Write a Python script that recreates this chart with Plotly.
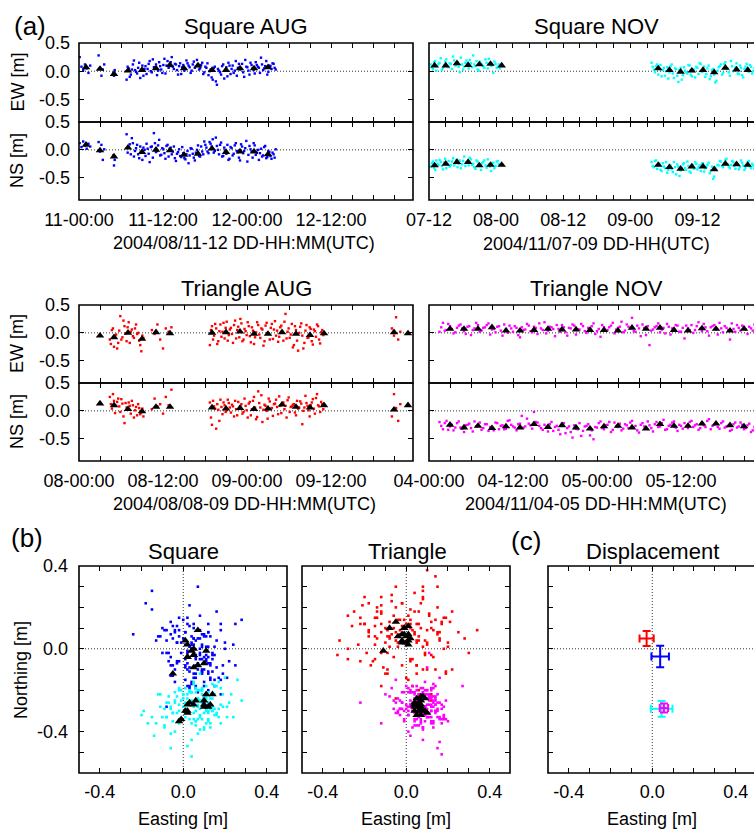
import plotly.graph_objects as go

# ------------------------------------------------------------------ data
# Square AUG  (hours from 2004/08/11 00:00 UTC)
sq_aug_t = [0.1, 0.35, 0.6, 0.85, 1.1, 1.35, 1.6,
            2.8, 3.0, 3.2, 3.4, 3.6,
            4.9, 5.0, 5.1,
            6.8, 7.1, 7.4, 7.7, 8.0, 8.3, 8.6, 8.9, 9.2, 9.5, 9.8, 10.1, 10.4, 10.7, 11.0, 11.3,
            11.6, 11.9, 12.2, 12.5, 12.8, 13.1, 13.4, 13.7, 14.0, 14.3, 14.6, 14.9, 15.2, 15.5,
            15.8, 16.1, 16.4, 16.7, 17.0, 17.3, 17.6, 17.9, 18.2, 18.5, 18.8, 19.1, 19.4, 19.7,
            20.0, 20.3, 20.6, 20.9, 21.2, 21.5, 21.8, 22.1, 22.4, 22.7, 23.0, 23.3, 23.6, 23.9,
            24.2, 24.5, 24.8, 25.1, 25.4, 25.7, 26.0, 26.3, 26.6, 26.9, 27.2, 27.5, 27.8, 28.1,
            6.95, 7.25, 7.55, 7.85, 8.15, 8.45, 8.75, 9.05, 9.35, 9.65, 9.95, 10.25, 10.55, 10.85,
            11.15, 11.45, 11.75, 12.05, 12.35, 12.65, 12.95, 13.25, 13.55, 13.85, 14.15, 14.45,
            14.75, 15.05, 15.35, 15.65, 15.95, 16.25, 16.55, 16.85, 17.15, 17.45, 17.75, 18.05,
            18.35, 18.65, 18.95, 19.25, 19.55, 19.85, 20.15, 20.45, 20.75, 21.05, 21.35, 21.65,
            21.95, 22.25, 22.55, 22.85, 23.15, 23.45, 23.75, 24.05, 24.35, 24.65, 24.95, 25.25,
            25.55, 25.85, 26.15, 26.45, 26.75, 27.05, 27.35, 27.65, 27.95]
sq_aug_ew = [0.25, 0.08, 0.02, 0.12, 0.05, -0.03, 0.10,
             0.28, 0.06, -0.08, 0.03, 0.12,
             -0.04, -0.08, 0.02,
             -0.15, 0.05, -0.06, 0.12, 0.02, -0.04, 0.15, 0.01, -0.08, 0.09,
             0.04, 0.18, -0.02, 0.07, 0.12, 0.01, 0.09, -0.03, 0.22, 0.10,
             0.06, 0.16, 0.08, 0.13, 0.02, 0.09, -0.05, 0.11, 0.04, 0.14,
             0.07, 0.01, 0.17, 0.09, 0.12, 0.05, 0.15, -0.02, 0.06, -0.07,
             0.03, -0.15, 0.08, -0.24, 0.01, -0.06, 0.12, 0.02, -0.09, 0.10,
             0.04, -0.03, 0.18, 0.06, 0.03, 0.13, -0.10, 0.08, 0.01, 0.15,
             0.05, -0.04, 0.11, 0.06, 0.24, 0.02, 0.09, -0.06, 0.10, 0.04,
             0.13, 0.03,
             0.08, -0.10, 0.03, 0.19, -0.01, 0.06, -0.12, 0.10, 0.04, -0.05,
             0.13, 0.00, 0.21, 0.05, -0.07, 0.16, 0.03, 0.11, -0.04, 0.18,
             0.09, 0.25, 0.04, 0.12, -0.06, 0.14, 0.07, 0.01, 0.19, 0.10,
             -0.03, 0.12, 0.06, 0.20, 0.03, 0.11, -0.05, 0.08, 0.14, 0.00,
             -0.11, 0.06, -0.18, 0.04, -0.02, 0.09, -0.13, 0.07, 0.15, -0.05,
             0.10, 0.01, -0.08, 0.13, 0.05, -0.02, 0.20, 0.07, -0.06, 0.11,
             0.02, 0.16, 0.08, -0.03, 0.12, 0.05, 0.18, -0.01, 0.09, 0.14,
             0.06]
sq_aug_ns = [0.12, 0.05, 0.15, 0.08, 0.02, 0.11, 0.06,
             0.14, -0.03, 0.09, -0.18, 0.01,
             -0.10, -0.28, -0.18,
             0.28, 0.05, -0.08, 0.12, -0.02, 0.09, -0.15, -0.05, 0.04, -0.11,
             0.02, -0.22, 0.06, 0.30, -0.04, 0.08, -0.10, 0.03, -0.06, 0.07,
             -0.12, 0.04, -0.03, -0.15, -0.07, 0.01, -0.13, -0.06, -0.17, -0.02,
             -0.10, 0.02, -0.14, -0.05, 0.08, -0.12, -0.03, 0.15, 0.04, -0.06,
             0.11, 0.19, -0.02, 0.07, -0.08, 0.13, -0.11, -0.01, 0.09, -0.16,
             0.03, -0.07, 0.12, -0.04, -0.19, 0.06, -0.02, 0.16, -0.09, 0.01,
             -0.14, 0.08, -0.05, -0.18, 0.02, -0.10, 0.07, -0.13, -0.04, -0.16,
             -0.08, 0.01,
             -0.05, 0.10, 0.21, -0.12, 0.03, -0.08, 0.06, -0.18, 0.00, 0.11,
             -0.07, 0.05, -0.14, 0.12, -0.02, 0.18, -0.09, 0.01, -0.16, 0.09,
             0.02, -0.08, 0.06, -0.20, -0.04, -0.11, 0.05, -0.15, -0.08, -0.24,
             0.03, -0.07, -0.19, 0.00, -0.11, 0.06, -0.08, 0.09, -0.03, 0.14,
             0.06, -0.05, 0.22, 0.00, 0.09, -0.12, 0.04, -0.07, -0.18, 0.05,
             -0.10, 0.08, -0.02, -0.14, 0.10, -0.06, 0.03, -0.21, 0.07, -0.03,
             0.12, -0.09, 0.00, -0.06, -0.12, 0.05, -0.15, -0.02, -0.11, -0.05,
             -0.14]
sq_aug_tri_t = [1, 3, 5, 7, 9, 11, 13, 15, 17, 19, 21, 23, 25, 27]
sq_aug_tri_ew = [0.07, 0.04, -0.05, 0.01, 0.02, 0.05, 0.11, 0.05, 0.10, 0.02, 0.02, 0.05, 0.05, 0.07]
sq_aug_tri_ns = [0.09, -0.01, -0.12, 0.04, -0.04, 0.00, -0.01, -0.09, -0.07, 0.02, -0.04, -0.03, -0.03, -0.08]

# Square NOV  (hours from 2004/11/07 12:00 UTC)
sq_nov_t = [0.3, 0.7, 1.1, 1.5, 1.9, 2.3, 2.7, 3.1, 3.5, 3.9, 4.3, 4.7, 5.1, 5.5, 5.9, 6.3,
            6.7, 7.1, 7.5, 7.9, 8.3, 8.7, 9.1, 9.5, 9.9, 10.3, 10.7, 11.1, 11.5, 11.9, 12.3, 12.7,
            39.8, 40.2, 40.6, 41.0, 41.4, 41.8, 42.2, 42.6, 43.0, 43.4, 43.8, 44.2, 44.6, 45.0,
            45.4, 45.8, 46.2, 46.6, 47.0, 47.4, 47.8, 48.2, 48.6, 49.0, 49.4, 49.8, 50.2, 50.6,
            51.0, 51.4, 51.8, 52.2, 52.6, 53.0, 53.4, 53.8, 54.2, 54.6, 55.0, 55.4, 55.8, 56.2,
            56.6, 57.0, 57.4, 57.8, 58.2,
            0.5, 0.9, 1.3, 1.7, 2.1, 2.5, 2.9, 3.3, 3.7, 4.1, 4.5, 4.9, 5.3, 5.7, 6.1, 6.5, 6.9,
            7.3, 7.7, 8.1, 8.5, 8.9, 9.3, 9.7, 10.1, 10.5, 10.9, 11.3, 11.7, 12.1, 12.5,
            40.0, 40.4, 40.8, 41.2, 41.6, 42.0, 42.4, 42.8, 43.2, 43.6, 44.0, 44.4, 44.8, 45.2,
            45.6, 46.0, 46.4, 46.8, 47.2, 47.6, 48.0, 48.4, 48.8, 49.2, 49.6, 50.0, 50.4, 50.8,
            51.2, 51.6, 52.0, 52.4, 52.8, 53.2, 53.6, 54.0, 54.4, 54.8, 55.2, 55.6, 56.0, 56.4,
            56.8, 57.2, 57.6, 58.0]
sq_nov_ew = [0.12, 0.04, 0.18, 0.09, 0.15, 0.02, 0.11, 0.21, 0.07, 0.13, 0.26, 0.10, 0.16, -0.02,
             0.12, 0.08, 0.19, 0.05, 0.14, 0.28, 0.09, 0.03, 0.17, 0.11, 0.06, 0.15, 0.22, 0.10,
             -0.03, 0.13, 0.08, 0.05,
             0.15, 0.03, 0.09, -0.06, 0.11, 0.02, -0.08, 0.07, -0.02, 0.12,
             -0.12, 0.04, -0.19, 0.06, -0.07, 0.01, -0.04, 0.10, -0.09, 0.03,
             0.08, -0.05, 0.13, 0.00, -0.10, 0.05, -0.14, 0.02, -0.06, -0.17,
             0.07, 0.12, -0.03, 0.16, 0.04, -0.08, 0.09, 0.01, 0.14, -0.05,
             0.06, -0.11, 0.08, 0.02, 0.11, -0.04, 0.05,
             0.07, 0.16, 0.01, 0.13, 0.23, 0.06, 0.17, 0.09, 0.14, 0.04, 0.19, 0.11, 0.08, 0.24,
             0.03, 0.15, 0.10, 0.20, 0.07, 0.12, 0.18, 0.01, 0.13, 0.09, 0.21, 0.05, 0.14, 0.10,
             0.17, 0.06, 0.12,
             0.08, -0.02, 0.12, 0.04, -0.09, 0.06, 0.00, -0.13, 0.09, -0.04,
             0.05, -0.08, 0.02, -0.15, 0.07, -0.02, 0.11, -0.06, 0.03, -0.11,
             0.06, 0.14, -0.01, 0.08, -0.05, 0.10, -0.09, 0.04, -0.20, 0.01,
             0.09, -0.06, 0.13, 0.05, -0.02, 0.18, 0.00, 0.07, -0.04, 0.10,
             -0.07, 0.04, 0.13, -0.01, 0.08, 0.00]
sq_nov_ns = [-0.30, -0.21, -0.36, -0.25, -0.18, -0.29, -0.23, -0.33, -0.20, -0.27, -0.15, -0.24,
             -0.31, -0.19, -0.26, -0.12, -0.22, -0.28, -0.17, -0.25, -0.34, -0.21, -0.29, -0.24,
             -0.19, -0.32, -0.26, -0.38, -0.23, -0.29, -0.20, -0.27,
             -0.22, -0.31, -0.19, -0.28, -0.36, -0.24, -0.33, -0.41, -0.27, -0.35,
             -0.22, -0.44, -0.30, -0.37, -0.26, -0.33, -0.21, -0.39, -0.29, -0.34,
             -0.25, -0.31, -0.38, -0.24, -0.33, -0.27, -0.42, -0.30, -0.48, -0.36,
             -0.28, -0.21, -0.31, -0.18, -0.26, -0.33, -0.20, -0.29, -0.24, -0.35,
             -0.19, -0.28, -0.32, -0.22, -0.30, -0.25, -0.34,
             -0.24, -0.32, -0.19, -0.27, -0.22, -0.35, -0.16, -0.26, -0.30, -0.21,
             -0.28, -0.18, -0.25, -0.33, -0.20, -0.29, -0.23, -0.14, -0.27, -0.31,
             -0.19, -0.26, -0.36, -0.22, -0.28, -0.17, -0.30, -0.24, -0.33, -0.21, -0.26,
             -0.29, -0.20, -0.34, -0.25, -0.38, -0.30, -0.22, -0.36, -0.28, -0.40,
             -0.31, -0.26, -0.47, -0.33, -0.24, -0.36, -0.29, -0.41, -0.27, -0.22,
             -0.35, -0.28, -0.25, -0.39, -0.31, -0.23, -0.37, -0.52, -0.32, -0.27,
             -0.20, -0.29, -0.24, -0.16, -0.30, -0.27, -0.22, -0.34, -0.26, -0.31,
             -0.23, -0.36, -0.27, -0.20, -0.33, -0.28]
sq_nov_tri_t = [1, 3, 5, 7, 9, 11, 13, 41, 43, 45, 47, 49, 51, 53, 55, 57]
sq_nov_tri_ew = [0.10, 0.10, 0.14, 0.11, 0.12, 0.13, 0.10, 0.05, 0.02, -0.01, 0.01, 0.02, -0.02, 0.06, 0.03, 0.02]
sq_nov_tri_ns = [-0.28, -0.25, -0.22, -0.22, -0.28, -0.27, -0.27, -0.27, -0.31, -0.34, -0.30, -0.30, -0.35, -0.25, -0.26, -0.27]

# Triangle AUG  (hours from 2004/08/08 00:00 UTC)
tr_aug_t = [4.4, 4.7, 5.0, 5.3, 5.6, 5.9, 6.2, 6.5, 6.8, 7.1, 7.4, 7.7, 8.0, 8.3, 8.6, 8.9, 9.2,
            10.4, 10.8, 11.2, 11.6, 12.0, 12.4, 12.8, 13.2,
            18.7, 19.0, 19.3, 19.6, 19.9, 20.2, 20.5, 20.8, 21.1, 21.4, 21.7, 22.0, 22.3, 22.6,
            22.9, 23.2, 23.5, 23.8, 24.1, 24.4, 24.7, 25.0, 25.3, 25.6, 25.9, 26.2, 26.5, 26.8,
            27.1, 27.4, 27.7, 28.0, 28.3, 28.6, 28.9, 29.2, 29.5, 29.8, 30.1, 30.4, 30.7, 31.0,
            31.3, 31.6, 31.9, 32.2, 32.5, 32.8, 33.1, 33.4, 33.7, 34.0, 34.3, 34.6, 34.9,
            44.7, 45.0, 45.3, 45.6, 45.9,
            4.55, 4.85, 5.15, 5.45, 5.75, 6.05, 6.35, 6.65, 6.95, 7.25, 7.55, 7.85, 8.15, 8.45,
            8.75, 9.05,
            18.85, 19.15, 19.45, 19.75, 20.05, 20.35, 20.65, 20.95, 21.25, 21.55, 21.85, 22.15,
            22.45, 22.75, 23.05, 23.35, 23.65, 23.95, 24.25, 24.55, 24.85, 25.15, 25.45, 25.75,
            26.05, 26.35, 26.65, 26.95, 27.25, 27.55, 27.85, 28.15, 28.45, 28.75, 29.05, 29.35,
            29.65, 29.95, 30.25, 30.55, 30.85, 31.15, 31.45, 31.75, 32.05, 32.35, 32.65, 32.95,
            33.25, 33.55, 33.85, 34.15, 34.45, 34.75]
tr_aug_ew = [-0.12, 0.05, -0.25, -0.03, -0.18, 0.30, -0.08, 0.12, -0.15, 0.19, 0.02, -0.06, 0.08,
             -0.02, -0.14, -0.33, -0.09,
             0.05, -0.02, 0.15, -0.12, -0.28, 0.08, 0.02, 0.10,
             -0.22, 0.12, -0.05, 0.08, -0.15, 0.15, 0.02, -0.10, 0.20, -0.04,
             0.09, -0.18, 0.22, 0.05, -0.08, 0.17, -0.12, 0.03, 0.19, -0.06,
             0.10, -0.20, 0.01, 0.14, -0.09, 0.06, -0.15, 0.18, -0.02, 0.09,
             -0.11, 0.21, 0.04, -0.07, 0.13, -0.14, 0.34, 0.02, -0.09, 0.16,
             -0.22, 0.05, -0.32, 0.11, -0.05, -0.18, 0.14, -0.08, 0.07, -0.21,
             0.03, 0.15, -0.12, 0.01, -0.04,
             0.08, -0.05, 0.28, -0.12, 0.02,
             -0.20, 0.08, -0.06, -0.28, 0.04, -0.12, 0.22, -0.01, 0.10, -0.18, 0.06, -0.09,
             0.15, 0.00, -0.22, -0.05,
             0.05, -0.12, 0.16, -0.20, 0.03, -0.07, 0.18, 0.09, -0.14, 0.06,
             -0.02, 0.14, -0.10, 0.11, 0.25, -0.15, 0.07, -0.04, 0.12, -0.17,
             0.04, -0.08, 0.19, -0.03, 0.08, -0.23, 0.13, 0.00, -0.12, 0.16,
             0.06, -0.05, -0.16, 0.10, 0.02, 0.20, -0.10, 0.08, -0.03, -0.26,
             0.12, -0.14, 0.00, 0.17, -0.28, 0.04, -0.09, 0.10, -0.15, 0.06,
             -0.07, 0.12, -0.19, 0.05]
tr_aug_ns = [0.25, 0.04, 0.18, 0.09, 0.22, -0.02, 0.13, -0.22, 0.06, 0.15, -0.05, 0.10, 0.01,
             -0.08, 0.05, -0.03, -0.10,
             0.03, 0.22, 0.08, 0.12, -0.05, 0.25, 0.10, 0.38,
             0.15, -0.25, 0.08, -0.32, 0.02, 0.20, -0.06, 0.10, 0.01, 0.14,
             -0.03, 0.08, 0.18, -0.08, 0.05, 0.12, -0.02, 0.09, -0.12, 0.16,
             0.03, 0.25, -0.15, 0.35, 0.06, -0.20, 0.11, 0.00, 0.22, 0.04,
             -0.09, 0.13, 0.07, 0.26, -0.04, 0.15, 0.09, 0.19, -0.02, 0.08,
             0.12, -0.08, 0.04, 0.17, -0.24, 0.06, 0.14, 0.01, 0.10, 0.21,
             -0.05, 0.30, 0.08, 0.16, 0.03,
             -0.10, 0.30, 0.05, -0.18, 0.12,
             0.12, 0.30, -0.04, 0.16, 0.08, 0.21, -0.10, 0.14, 0.02, 0.09, 0.18, -0.12,
             0.07, 0.12, -0.06, 0.04,
             -0.12, 0.18, 0.04, 0.12, -0.18, 0.07, 0.15, -0.02, 0.20, 0.06,
             0.11, -0.10, 0.03, 0.16, 0.08, -0.05, 0.22, 0.01, 0.13, -0.08,
             0.18, 0.06, -0.11, 0.14, 0.28, 0.02, 0.09, -0.14, 0.17, 0.05,
             0.12, 0.20, -0.06, 0.09, 0.14, 0.03, -0.12, 0.24, 0.07, 0.11,
             -0.03, 0.18, 0.06, 0.13, 0.00, 0.27, 0.09, -0.10, 0.15, 0.04,
             0.23, 0.10, -0.02, 0.12]
tr_aug_tri_t = [3, 5, 7, 9, 11, 13, 19, 21, 23, 25, 27, 29, 31, 33, 35, 45, 47]
tr_aug_tri_ew = [-0.05, -0.08, 0.00, -0.11, 0.01, -0.01, 0.00, 0.01, 0.02, -0.02, -0.02, 0.01, -0.02, -0.04, -0.01, 0.01, -0.01]
tr_aug_tri_ns = [0.13, 0.10, 0.03, -0.01, 0.07, 0.07, 0.06, 0.04, 0.05, 0.03, 0.04, 0.11, 0.07, 0.06, 0.10, 0.02, 0.10]

# Triangle NOV  (hours from 2004/11/04 00:00 UTC)
tr_nov_t = [1.5, 2.0, 2.5, 3.0, 3.5, 4.0, 4.5, 5.0, 5.5, 6.0, 6.5, 7.0, 7.5, 8.0, 8.5, 9.0, 9.5,
            10.0, 10.5, 11.0, 11.5, 12.0, 12.5, 13.0, 13.5, 14.0, 14.5, 15.0, 15.5, 16.0, 16.5,
            17.0, 17.5, 18.0, 18.5, 19.0, 19.5, 20.0, 20.5, 21.0, 21.5, 22.0, 22.5, 23.0, 23.5,
            24.0, 24.5, 25.0, 25.5, 26.0, 26.5, 27.0, 27.5, 28.0, 28.5, 29.0, 29.5, 30.0, 30.5,
            31.0, 31.5, 32.0, 32.5, 33.0, 33.5, 34.0, 34.5, 35.0, 35.5, 36.0, 36.5, 37.0, 37.5,
            38.0, 38.5, 39.0, 39.5, 40.0, 40.5, 41.0, 41.5, 42.0, 42.5, 43.0, 43.5, 44.0, 44.5,
            45.0, 45.5, 46.0, 46.5,
            1.75, 2.25, 2.75, 3.25, 3.75, 4.25, 4.75, 5.25, 5.75, 6.25, 6.75, 7.25, 7.75, 8.25,
            8.75, 9.25, 9.75, 10.25, 10.75, 11.25, 11.75, 12.25, 12.75, 13.25, 13.75, 14.25,
            14.75, 15.25, 15.75, 16.25, 16.75, 17.25, 17.75, 18.25, 18.75, 19.25, 19.75, 20.25,
            20.75, 21.25, 21.75, 22.25, 22.75, 23.25, 23.75, 24.25, 24.75, 25.25, 25.75, 26.25,
            26.75, 27.25, 27.75, 28.25, 28.75, 29.25, 29.75, 30.25, 30.75, 31.25, 31.75, 32.25,
            32.75, 33.25, 33.75, 34.25, 34.75, 35.25, 35.75, 36.25, 36.75, 37.25, 37.75, 38.25,
            38.75, 39.25, 39.75, 40.25, 40.75, 41.25, 41.75, 42.25, 42.75, 43.25, 43.75, 44.25,
            44.75, 45.25, 45.75, 46.25]
tr_nov_ew = [0.02, 0.18, 0.05, 0.12, -0.01, 0.09, 0.15, 0.03, 0.11, -0.04,
             0.08, 0.14, 0.04, 0.10, 0.17, 0.06, 0.01, 0.12, -0.05, 0.07,
             0.13, 0.02, 0.09, -0.08, 0.05, 0.16, 0.03, 0.11, -0.02, 0.08,
             0.19, 0.04, 0.10, -0.06, 0.07, 0.14, 0.01, 0.09, 0.15, -0.03,
             0.06, 0.12, 0.00, 0.08, 0.17, 0.03, -0.07, 0.10, 0.05, 0.13,
             -0.01, 0.09, 0.20, 0.04, 0.11, 0.27, 0.02, 0.08, 0.15, -0.04,
             -0.22, 0.06, 0.12, 0.01, 0.09, 0.16, -0.03, 0.07, 0.13, 0.02,
             -0.10, 0.08, 0.14, 0.05, 0.19, 0.03, 0.10, -0.05, 0.12, 0.06,
             0.18, 0.01, 0.09, -0.12, 0.07, 0.14, 0.04, 0.11, -0.02, 0.08, 0.15,
             0.10, 0.04, 0.16, 0.07, 0.01, 0.13, 0.08, -0.02, 0.12, 0.05,
             0.18, 0.02, 0.09, 0.14, -0.03, 0.07, 0.11, 0.04, 0.15, 0.00,
             0.08, 0.12, -0.04, 0.10, 0.06, 0.13, 0.01, 0.09, 0.17, 0.05,
             -0.01, 0.11, 0.07, 0.14, 0.02, 0.10, -0.05, 0.08, 0.13, 0.06,
             0.16, 0.03, 0.09, 0.12, -0.02, 0.07, 0.14, 0.04, 0.10, 0.18,
             0.06, 0.11, 0.01, 0.15, 0.08, 0.03, 0.13, -0.06, 0.09, 0.12,
             0.04, 0.10, 0.17, 0.06, -0.01, 0.11, 0.08, 0.14, 0.02, 0.09,
             0.13, 0.05, 0.00, 0.12, 0.07, 0.16, 0.03, 0.10, 0.14, -0.03,
             0.08, 0.12, 0.05, 0.17, 0.02, 0.09, 0.13, 0.06, 0.11, 0.04]
tr_nov_ns = [-0.20, -0.33, -0.18, -0.28, -0.35, -0.22, -0.30, -0.38, -0.25, -0.31,
             -0.19, -0.27, -0.34, -0.24, -0.36, -0.29, -0.21, -0.33, -0.26, -0.32,
             -0.17, -0.28, -0.35, -0.23, -0.30, -0.14, -0.26, -0.02, -0.21, -0.31,
             -0.25, -0.37, -0.20, -0.29, -0.34, -0.23, -0.40, -0.28, -0.48, -0.32,
             -0.22, -0.36, -0.27, -0.44, -0.51, -0.30, -0.19, -0.33, -0.25, -0.38,
             -0.21, -0.29, -0.35, -0.24, -0.31, -0.18, -0.27, -0.39, -0.22, -0.30,
             -0.26, -0.37, -0.20, -0.28, -0.16, -0.33, -0.25, -0.19, -0.36, -0.27,
             -0.22, -0.31, -0.18, -0.26, -0.34, -0.21, -0.29, -0.15, -0.27, -0.23,
             -0.32, -0.19, -0.28, -0.36, -0.24, -0.30, -0.21, -0.33, -0.26, -0.38, -0.29,
             -0.27, -0.22, -0.34, -0.25, -0.30, -0.19, -0.32, -0.26, -0.23, -0.37,
             -0.28, -0.21, -0.31, -0.24, -0.29, -0.35, -0.22, -0.27, -0.33, -0.18,
             -0.25, -0.30, -0.24, -0.09, -0.28, -0.23, -0.32, -0.20, -0.27, -0.34,
             -0.30, -0.24, -0.36, -0.27, -0.42, -0.22, -0.31, -0.38, -0.26, -0.33,
             -0.45, -0.28, -0.24, -0.35, -0.29, -0.22, -0.31, -0.26, -0.20, -0.34,
             -0.28, -0.23, -0.32, -0.26, -0.21, -0.30, -0.35, -0.25, -0.28, -0.19,
             -0.31, -0.24, -0.29, -0.22, -0.34, -0.27, -0.21, -0.30, -0.25, -0.32,
             -0.28, -0.20, -0.29, -0.24, -0.31, -0.26, -0.18, -0.33, -0.25, -0.29,
             -0.22, -0.30, -0.27, -0.34, -0.21, -0.28, -0.25, -0.31, -0.23, -0.35]
tr_nov_tri_t = [3, 5, 7, 9, 11, 13, 15, 17, 19, 21, 23, 25, 27, 29, 31, 33, 35, 37, 39, 41, 43, 45]
tr_nov_tri_ew = [0.07, 0.07, 0.07, 0.10, 0.04, 0.04, 0.05, 0.07, 0.06, 0.06, 0.05, 0.05, 0.04, 0.09,
                 0.07, 0.09, 0.05, 0.04, 0.08, 0.07, 0.04, 0.07]
tr_nov_tri_ns = [-0.25, -0.30, -0.27, -0.31, -0.28, -0.30, -0.24, -0.29, -0.26, -0.30, -0.32, -0.28,
                 -0.27, -0.30, -0.32, -0.24, -0.27, -0.27, -0.23, -0.23, -0.26, -0.28]

# Displacement (mean easting, mean northing, std E, std N)
disp_names = ["Triangle AUG", "Square AUG", "Square NOV", "Triangle NOV"]
disp_e = [-0.027, 0.038, 0.045, 0.056]
disp_n = [0.050, -0.037, -0.290, -0.286]
disp_se = [0.034, 0.042, 0.052, 0.020]
disp_sn = [0.036, 0.052, 0.038, 0.022]

# tick labels
sq_aug_ticks = ["11-00:00", "11-12:00", "12-00:00", "12-12:00"]
sq_nov_ticks = ["07-12", "08-00", "08-12", "09-00", "09-12"]
tr_aug_ticks = ["08-00:00", "08-12:00", "09-00:00", "09-12:00"]
tr_nov_ticks = ["04-00:00", "04-12:00", "05-00:00", "05-12:00"]

for a, b in [(sq_aug_t, sq_aug_ew), (sq_aug_t, sq_aug_ns), (sq_nov_t, sq_nov_ew), (sq_nov_t, sq_nov_ns),
             (tr_aug_t, tr_aug_ew), (tr_aug_t, tr_aug_ns), (tr_nov_t, tr_nov_ew), (tr_nov_t, tr_nov_ns)]:
    assert len(a) == len(b), (len(a), len(b))

BLUE, CYAN, RED, MAGENTA = "#0000ff", "#00ffff", "#ff0000", "#ff00ff"

# ------------------------------------------------------------------ layout helpers
W, H = 754, 829
FONT = "Liberation Sans, Arial, Helvetica, sans-serif"


def dom_x(a, b):
    return [a / W, min(b / W, 1.0)]


def dom_y(top, bot):
    return [1 - bot / H, 1 - top / H]


# (left, right, top, bottom) in px; right-column panels run past the page edge
panels = [
    (79, 413, 43, 122), (79, 413, 122, 200),
    (429, 764, 43, 122), (429, 764, 122, 200),
    (79, 413, 305, 383), (79, 413, 383, 461),
    (429, 764, 305, 383), (429, 764, 383, 461),
    (79, 287, 566, 773), (302, 510, 566, 773), (548, 757, 566, 773),
]

layout = dict(width=W, height=H, margin=dict(l=0, r=0, t=0, b=0, pad=0), autosize=False,
              template="none",
              paper_bgcolor="white", plot_bgcolor="white", showlegend=False,
              font=dict(family=FONT, size=18, color="black"))


def base_axis():
    return dict(showline=False, ticks="inside", ticklen=5, automargin=False,
                tickwidth=1, tickcolor="black", showgrid=False, zeroline=False,
                tickfont=dict(family=FONT, size=18, color="black"))


time_specs = {  # panel index: (ticklabels, show labels, right column)
    1: (sq_aug_ticks, False, False), 2: (sq_aug_ticks, True, False),
    3: (sq_nov_ticks, False, True), 4: (sq_nov_ticks, True, True),
    5: (tr_aug_ticks, False, False), 6: (tr_aug_ticks, True, False),
    7: (tr_nov_ticks, False, True), 8: (tr_nov_ticks, True, True),
}
hour_px = {1: 84, 2: 84, 3: 67.1, 4: 67.1, 5: 84, 6: 84, 7: 84, 8: 84}  # px per 12 h

for i, (l, r, t, b) in enumerate(panels, start=1):
    xa = base_axis()
    ya = base_axis()
    rr = min(r, W)
    xa.update(domain=dom_x(l, rr), anchor=f"y{i}", mirror="ticks")
    ya.update(domain=dom_y(t, b), anchor=f"x{i}")
    if i in time_specs:
        labels, show, right = time_specs[i]
        xa.update(range=[0, (rr - l) / hour_px[i] * 12], tickmode="array",
                  tickvals=[12 * k for k in range(len(labels))],
                  ticktext=labels, showticklabels=show, ticklabelstandoff=7,
                  minor=dict(tickmode="linear", tick0=0, dtick=3, ticks="inside", ticklen=5,
                             tickcolor="black", tickwidth=1, showgrid=False))
        ya.update(range=[-0.9, 0.5], tickmode="array", tickvals=[-0.5, 0, 0.5],
                  ticktext=["-0.5", "0.0", "0.5"], showticklabels=not right,
                  mirror=False if right else "ticks", ticklabelstandoff=8)
    else:
        xr = [-0.5, -0.5 + (rr - l) / 208.5]
        xa.update(range=xr, tickmode="array", tickvals=[-0.4, 0, 0.4],
                  ticktext=["-0.4", "0.0", "0.4"], ticklabelstandoff=6,
                  minor=dict(tickmode="linear", tick0=0, dtick=0.1, ticks="inside", ticklen=5,
                             tickcolor="black", tickwidth=1, showgrid=False))
        ya.update(range=[-0.6, 0.4], tickmode="array", tickvals=[-0.4, 0, 0.4],
                  ticktext=["-0.4", "0.0", "0.4"], showticklabels=(i == 9),
                  mirror=False if i == 11 else "ticks", ticklabelstandoff=10,
                  minor=dict(tickmode="linear", tick0=0, dtick=0.1, ticks="inside", ticklen=5,
                             tickcolor="black", tickwidth=1, showgrid=False))
    layout[f"xaxis{i}" if i > 1 else "xaxis"] = xa
    layout[f"yaxis{i}" if i > 1 else "yaxis"] = ya

fig = go.Figure()


def ax(i):
    return ("x" if i == 1 else f"x{i}"), ("y" if i == 1 else f"y{i}")


def dots(i, x, y, color, size=2.4):
    xa_, ya_ = ax(i)
    fig.add_trace(go.Scatter(x=x, y=y, mode="markers", xaxis=xa_, yaxis=ya_, hoverinfo="skip",
                             marker=dict(symbol="square", size=size, color=color, line=dict(width=0))))


def tris(i, x, y):
    xa_, ya_ = ax(i)
    fig.add_trace(go.Scatter(x=x, y=y, mode="markers", xaxis=xa_, yaxis=ya_, hoverinfo="skip",
                             marker=dict(symbol="triangle-up", size=7.5, color="black",
                                         line=dict(width=0))))


# time series
dots(1, sq_aug_t, sq_aug_ew, BLUE); tris(1, sq_aug_tri_t, sq_aug_tri_ew)
dots(2, sq_aug_t, sq_aug_ns, BLUE); tris(2, sq_aug_tri_t, sq_aug_tri_ns)
dots(3, sq_nov_t, sq_nov_ew, CYAN); tris(3, sq_nov_tri_t, sq_nov_tri_ew)
dots(4, sq_nov_t, sq_nov_ns, CYAN); tris(4, sq_nov_tri_t, sq_nov_tri_ns)
dots(5, tr_aug_t, tr_aug_ew, RED); tris(5, tr_aug_tri_t, tr_aug_tri_ew)
dots(6, tr_aug_t, tr_aug_ns, RED); tris(6, tr_aug_tri_t, tr_aug_tri_ns)
dots(7, tr_nov_t, tr_nov_ew, MAGENTA); tris(7, tr_nov_tri_t, tr_nov_tri_ew)
dots(8, tr_nov_t, tr_nov_ns, MAGENTA); tris(8, tr_nov_tri_t, tr_nov_tri_ns)

# horizontal scatter (Easting vs Northing)
dots(9, sq_aug_ew, sq_aug_ns, BLUE, 2.6)
dots(9, sq_nov_ew, sq_nov_ns, CYAN, 2.6)
tris(9, sq_aug_tri_ew, sq_aug_tri_ns)
tris(9, sq_nov_tri_ew, sq_nov_tri_ns)
dots(10, tr_aug_ew, tr_aug_ns, RED, 2.6)
dots(10, tr_nov_ew, tr_nov_ns, MAGENTA, 2.6)
tris(10, tr_aug_tri_ew, tr_aug_tri_ns)
tris(10, tr_nov_tri_ew, tr_nov_tri_ns)

# displacement
for e, n, se, sn, c in zip(disp_e, disp_n, disp_se, disp_sn, [RED, BLUE, CYAN, MAGENTA]):
    fig.add_trace(go.Scatter(x=[e], y=[n], mode="markers", xaxis="x11", yaxis="y11", hoverinfo="skip",
                             marker=dict(size=1, color=c),
                             error_x=dict(type="data", array=[se], visible=True, color=c, thickness=2, width=4),
                             error_y=dict(type="data", array=[sn], visible=True, color=c, thickness=2, width=4)))

# zero lines and panel frames
shapes = []
dotline = dict(color="#333333", width=1, dash="1px,2px")
for i in range(1, 12):
    xa_, ya_ = ax(i)
    shapes.append(dict(type="line", xref=f"{xa_} domain", yref=ya_, x0=0, x1=1, y0=0, y1=0,
                       line=dotline, layer="below"))
    if i >= 9:
        shapes.append(dict(type="line", xref=xa_, yref=f"{ya_} domain", x0=0, x1=0, y0=0, y1=1,
                           line=dotline, layer="below"))
for (l, r, t, b) in panels:
    shapes.append(dict(type="rect", xref="paper", yref="paper", x0=l / W, x1=r / W,
                       y0=1 - b / H, y1=1 - t / H, line=dict(color="black", width=1.6),
                       fillcolor="rgba(0,0,0,0)", layer="above"))
layout["shapes"] = shapes

# annotations
ann = []


def text(s, x, y, size=18, angle=0):
    ann.append(dict(text=s, x=x / W, y=1 - y / H, xref="paper", yref="paper", showarrow=False,
                    xanchor="center", yanchor="middle", textangle=angle,
                    font=dict(family=FONT, size=size, color="black")))


text("(a)", 30, 26, 26)
text("(b)", 27, 538, 26)
text("(c)", 526, 541, 26)
text("Square AUG", 246, 27, 22)
text("Square NOV", 596, 27, 22)
text("Triangle AUG", 246, 288, 22)
text("Triangle NOV", 596, 288, 22)
text("Square", 183, 551, 22)
text("Triangle", 407, 551, 22)
text("Displacement", 652, 551, 22)
text("2004/08/11-12 DD-HH:MM(UTC)", 244, 243)
text("2004/11/07-09 DD-HH(UTC)", 596, 244)
text("2004/08/08-09 DD-HH:MM(UTC)", 244, 504)
text("2004/11/04-05 DD-HH:MM(UTC)", 596, 504)
text("Easting [m]", 183, 819)
text("Easting [m]", 406, 819)
text("Easting [m]", 652, 819)
text("EW [m]", 17, 82.5, angle=-90)
text("NS [m]", 17, 161, angle=-90)
text("EW [m]", 17, 344, angle=-90)
text("NS [m]", 17, 422, angle=-90)
text("Northing [m]", 21, 670, angle=-90)
layout["annotations"] = ann

fig.update_layout(**layout)
fig.write_html("out.html", config={"displayModeBar": False},
               post_script="document.body.style.margin='0';document.body.style.padding='0';"
                           "document.documentElement.style.overflow='hidden';")
